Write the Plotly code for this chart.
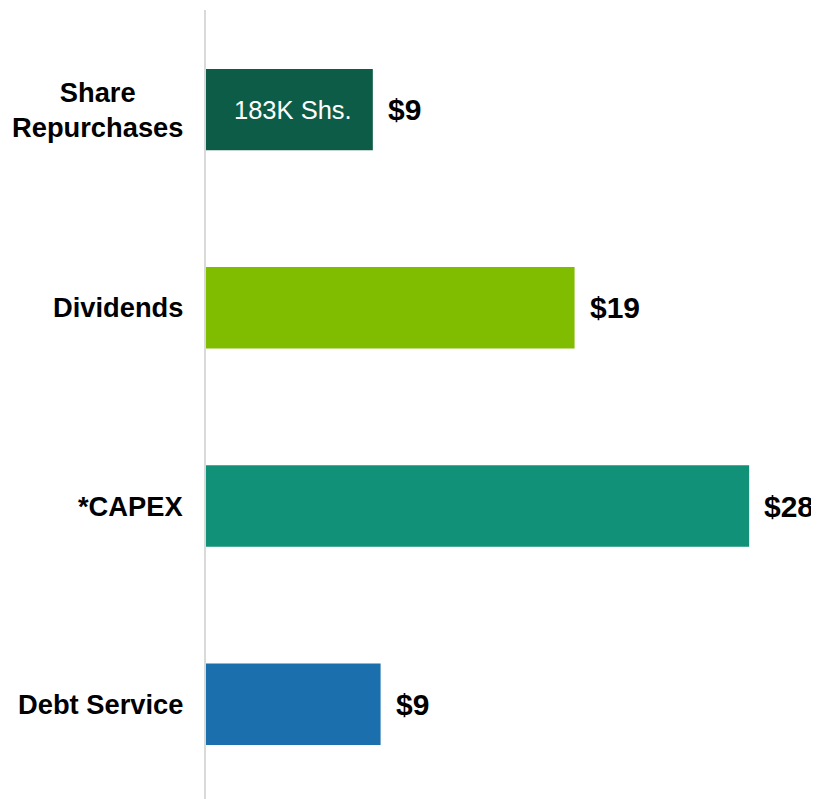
import plotly.graph_objects as go

categories = ["Share<br>Repurchases", "Dividends", "*CAPEX", "Debt Service"]
values = [8.6, 19, 28, 9]
value_labels = ["$9", "$19", "$28", "$9"]
inner_labels = ["183K Shs.", "", "", ""]
colors = ["#0d5c48", "#80bc00", "#109178", "#1b6fad"]

fig = go.Figure()
fig.add_trace(go.Bar(
    y=list(range(len(categories))),
    x=values,
    orientation="h",
    marker=dict(color=colors, line=dict(width=0)),
    width=0.41,
    hoverinfo="skip",
))

for i, (cat, v, lab, inner) in enumerate(zip(categories, values, value_labels, inner_labels)):
    fig.add_annotation(x=v, y=i, xref="x", yref="y", text=f"<b>{lab}</b>",
                       showarrow=False, xanchor="left", xshift=13,
                       font=dict(family="Liberation Sans, Arial", size=30, color="#000000"))
    fig.add_annotation(x=0, y=i, xref="paper", yref="y", text=f"<b>{cat}</b>",
                       showarrow=False, xanchor="right", xshift=-21, align="center",
                       font=dict(family="Liberation Sans, Arial", size=27.3, color="#000000"))
    if inner:
        fig.add_annotation(x=v / 2, y=i, xref="x", yref="y", text=inner,
                           showarrow=False, xanchor="center", xshift=4,
                           font=dict(family="Liberation Sans, Arial", size=25.5, color="#ffffff"))

fig.update_layout(
    width=811, height=791,
    margin=dict(l=198, r=0, t=2, b=0),
    plot_bgcolor="white", paper_bgcolor="white",
    showlegend=False,
    xaxis=dict(range=[0, 31.6], showgrid=False, zeroline=False, showticklabels=False, showline=False),
    yaxis=dict(range=[3.478, -0.502], showgrid=False, zeroline=False, showticklabels=False,
               showline=True, linecolor="#d9d9d9", linewidth=2),
)

fig.write_html("out.html")
